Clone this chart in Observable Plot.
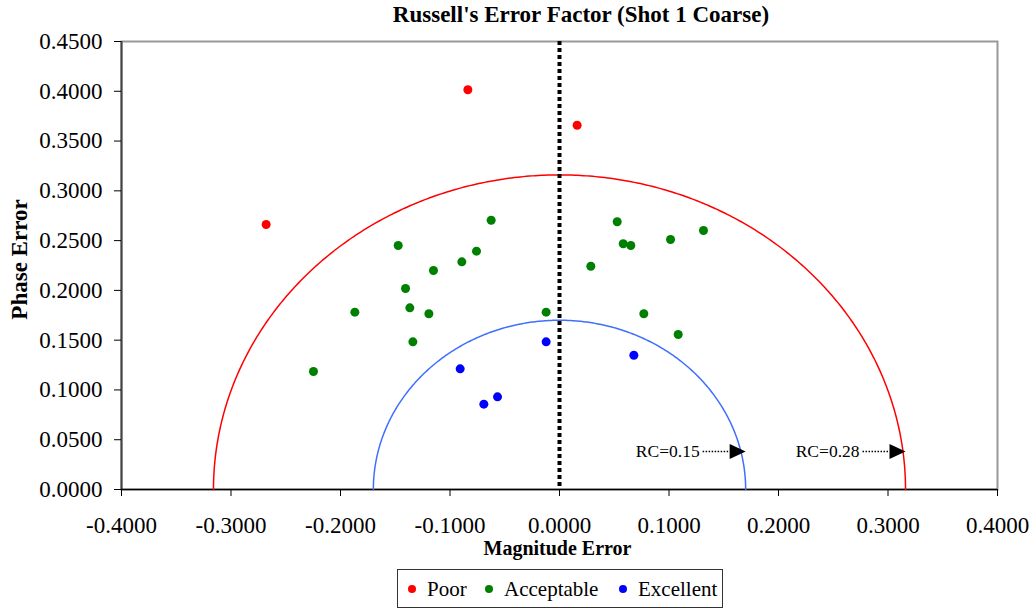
<!DOCTYPE html>
<html><head><meta charset="utf-8">
<script src="https://cdn.jsdelivr.net/npm/d3@7"></script>
<script src="https://cdn.jsdelivr.net/npm/@observablehq/plot@0.6"></script>
<style>
body{margin:0;background:#fff;font-family:"Liberation Serif","Times New Roman",serif;}
#wrap{position:relative;width:1036px;height:610px;overflow:hidden;background:#fff;}
#title{position:absolute;left:281px;top:0;width:600px;height:30px;line-height:30px;text-align:center;font-weight:bold;font-size:23px;}
#chart{position:absolute;left:0;top:30px;}
#legend{position:absolute;left:397px;top:569px;}
</style>
</head><body>
<div id="wrap"><div id="title">Russell's Error Factor (Shot 1 Coarse)</div><div id="chart"></div><svg id="legend" width="327" height="40"></svg></div>
<script>
// ---- data ----
const categories = ["Poor", "Acceptable", "Excellent"];
const catColors = ["#FF0000", "#008000", "#0000FF"];
const poorX = [-0.2679, -0.0837, 0.0161];
const poorY = [0.2662, 0.4015, 0.3659];
const acceptableX = [-0.1473, -0.0624, -0.0758, -0.0892, -0.1151, -0.1406, -0.1367, -0.1193, -0.1869, -0.1339, -0.2247, -0.0122,
                     0.0527, 0.0582, 0.0651, 0.1014, 0.1315, 0.0286, 0.0770, 0.1084];
const acceptableY = [0.2451, 0.2705, 0.2394, 0.2287, 0.2200, 0.2019, 0.1825, 0.1765, 0.1781, 0.1483, 0.1185, 0.1781,
                     0.2689, 0.2468, 0.2451, 0.2511, 0.2601, 0.2243, 0.1765, 0.1557];
const excellentX = [-0.0122, -0.0907, -0.0691, -0.0566, 0.0679];
const excellentY = [0.1483, 0.1212, 0.0857, 0.0931, 0.1349];
const rcRadius = [0.316, 0.170];
const rcColors = ["#FF0000", "#3F6FFF"];
const annLabels = ["RC=0.15", "RC=0.28"];
const annTipX = [0.170, 0.316];
const annY = [0.0382, 0.0382];
const xTicks = [-0.4, -0.3, -0.2, -0.1, 0, 0.1, 0.2, 0.3, 0.4];
const yTicks = [0, 0.05, 0.1, 0.15, 0.2, 0.25, 0.3, 0.35, 0.4, 0.45];

// ---- tables ----
const seriesX = [poorX, acceptableX, excellentX];
const seriesY = [poorY, acceptableY, excellentY];
const points = [];
categories.forEach((c, i) => seriesX[i].forEach((x, j) => points.push({cat: c, x, y: seriesY[i][j]})));
const arcs = [];
rcRadius.forEach((r, k) => {
  for (let a = 0; a <= 360; a++) {
    const t = Math.PI * a / 360;
    arcs.push({k, x: r * Math.cos(t), y: r * Math.sin(t)});
  }
});
const ann = annLabels.map((l, i) => ({label: l, x: annTipX[i], y: annY[i]}));

const triSym = {draw(ctx) { ctx.moveTo(0, 0); ctx.lineTo(-16, -7.5); ctx.lineTo(-16, 7.5); ctx.closePath(); }};
const lineSym = {draw(ctx) { ctx.moveTo(-43, 0); ctx.lineTo(-16, 0); }};
const fmt = d => d.toFixed(4);

const plot = Plot.plot({
  width: 1036, height: 530,
  marginTop: 11, marginBottom: 71, marginLeft: 121, marginRight: 39,
  x: {domain: [-0.4, 0.4]},
  y: {domain: [0, 0.45]},
  style: {fontFamily: "'Liberation Serif', 'Times New Roman', serif", fontSize: "23px", color: "#000", background: "#fff", overflow: "visible"},
  marks: [
    Plot.frame({stroke: "#999", strokeWidth: 2}),
    Plot.ruleX([-0.4], {stroke: "#444", strokeWidth: 2}),
    Plot.ruleY([0], {stroke: "#000", strokeWidth: 1.5}),
    Plot.axisX({ticks: xTicks, tickSize: 7, tickPadding: 20, tickFormat: fmt, label: null}),
    Plot.axisY({ticks: yTicks, tickSize: 7, tickPadding: 12, tickFormat: fmt, label: null}),
    Plot.line(arcs, {x: "x", y: "y", z: "k", stroke: d => rcColors[d.k], strokeWidth: 1.5}),
    Plot.ruleX([0], {stroke: "#000", strokeWidth: 4, strokeDasharray: "4,3"}),
    ...categories.map((c, i) => Plot.dot(points.filter(d => d.cat === c), {x: "x", y: "y", r: 4.5, fill: catColors[i], stroke: "none"})),
    Plot.dot(ann, {x: "x", y: "y", symbol: lineSym, stroke: "#000", fill: "none", strokeWidth: 1.5, strokeDasharray: "1.5,1.5"}),
    Plot.dot(ann, {x: "x", y: "y", symbol: triSym, fill: "#000", stroke: "none"}),
    Plot.text(ann, {x: "x", y: "y", text: "label", dx: -46, textAnchor: "end", fontSize: 17.5}),
    Plot.text(["Magnitude Error"], {frameAnchor: "bottom", dy: 59, dx: -2, textAnchor: "middle", lineAnchor: "middle", fontWeight: "bold", fontSize: 20}),
    Plot.text(["Phase Error"], {frameAnchor: "left", dx: -102, dy: -6, rotate: -90, textAnchor: "middle", lineAnchor: "middle", fontWeight: "bold", fontSize: 23})
  ]
});
document.getElementById("chart").appendChild(plot);

// legend
const lg = d3.select("#legend");
lg.append("rect").attr("x", 0.5).attr("y", 0.5).attr("width", 325).attr("height", 38).attr("fill", "#fff").attr("stroke", "#333");
const dotX = [15, 92, 226];
categories.forEach((c, i) => {
  lg.append("circle").attr("cx", dotX[i]).attr("cy", 20).attr("r", 4).attr("fill", catColors[i]);
  lg.append("text").attr("x", dotX[i] + 15).attr("y", 27).attr("font-size", 21)
    .attr("font-family", "'Liberation Serif', serif").text(c);
});
</script>
</body></html>
